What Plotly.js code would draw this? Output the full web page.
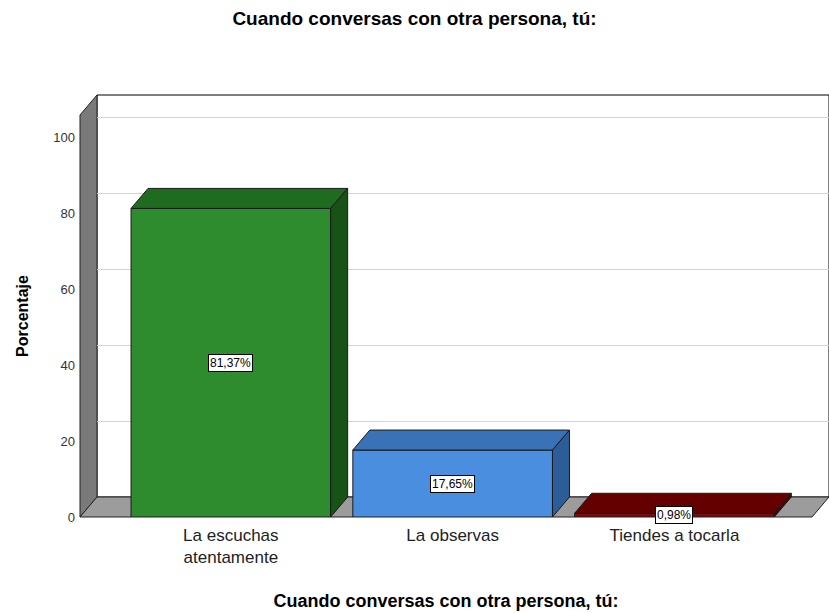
<!DOCTYPE html>
<html>
<head>
<meta charset="utf-8">
<script src="https://cdn.plot.ly/plotly-3.0.1.min.js"></script>
<style>body{margin:0;background:#fff}#chart{width:829px;height:613px}</style>
</head>
<body>
<div id="chart"></div>
<script>
const categories = ["La escuchas<br>atentamente", "La observas", "Tiendes a tocarla"];
const values = [81.37, 17.65, 0.98];
const valueLabels = ["81,37%", "17,65%", "0,98%"];
const yTicks = [0, 20, 40, 60, 80, 100];

const frontColors = ["#2e8b2e", "#4a8fdf", "#7d0a0a"];
const topColors = ["#1f6b1f", "#3a72b8", "#640000"];
const sideColors = ["#175317", "#2d5d99", "#4f0000"];

// geometry (pixels -> paper)
const W = 829, H = 613;
const L = 80, R = 829, T = 95, B = 517;
const pw = R - L, ph = B - T;
const dxPx = 17, dyPx = 20;
const xRange = [-0.68, 2.62], yRange = [0, 106];
const frontW = pw - dxPx, frontH = ph - dyPx;
const ddx = dxPx / (frontW / (xRange[1] - xRange[0]));
const ddy = dyPx / (frontH / (yRange[1] - yRange[0]));
const bw = 0.9;
const px = p => (p - L) / pw;
const py = p => (B - p) / ph;

const idx = categories.map((_, i) => i);
const traces = [];
traces.push({
  type: "bar", x: idx, y: values, xaxis: "x2", yaxis: "y2", width: bw,
  marker: {color: frontColors, line: {color: "#1a1a1a", width: 1}},
  hoverinfo: "skip", showlegend: false
});
values.forEach((v, i) => {
  const x0 = i - bw / 2, x1 = i + bw / 2;
  traces.push({
    type: "scatter", mode: "lines", xaxis: "x2", yaxis: "y2", fill: "toself",
    x: [x0, x1, x1 + ddx, x0 + ddx, x0], y: [v, v, v + ddy, v + ddy, v],
    fillcolor: topColors[i], line: {color: "#1a1a1a", width: 1},
    hoverinfo: "skip", showlegend: false
  });
  traces.push({
    type: "scatter", mode: "lines", xaxis: "x2", yaxis: "y2", fill: "toself",
    x: [x1, x1 + ddx, x1 + ddx, x1, x1], y: [0, ddy, v + ddy, v, 0],
    fillcolor: sideColors[i], line: {color: "#1a1a1a", width: 1},
    hoverinfo: "skip", showlegend: false
  });
});
// invisible trace for back axes
traces.push({type: "scatter", x: [0], y: [0], xaxis: "x", yaxis: "y", mode: "markers",
  marker: {opacity: 0}, hoverinfo: "skip", showlegend: false});

const font = "Liberation Sans, Arial, sans-serif";

const annotations = values.map((v, i) => ({
  x: i, y: v / 2, xref: "x2", yref: "y2", text: valueLabels[i], showarrow: false,
  bgcolor: "#ffffff", bordercolor: "#000000", borderwidth: 1, borderpad: 1,
  font: {family: font, size: 12, color: "#000"}
}));

const shapes = [
  // back wall
  {type: "rect", xref: "paper", yref: "paper", layer: "below",
   x0: px(L + dxPx), x1: 1, y0: py(B - dyPx), y1: 1,
   fillcolor: "#ffffff", line: {color: "#000", width: 1}},
  // left wall
  {type: "path", xref: "paper", yref: "paper", layer: "below",
   path: `M ${px(L)},${py(B)} L ${px(L)},${py(T + dyPx)} L ${px(L + dxPx)},${py(T)} L ${px(L + dxPx)},${py(B - dyPx)} Z`,
   fillcolor: "#7a7a7a", line: {color: "#222", width: 1}},
  // floor
  {type: "path", xref: "paper", yref: "paper", layer: "below",
   path: `M ${px(L)},${py(B)} L ${px(R - dxPx)},${py(B)} L ${px(R)},${py(B - dyPx)} L ${px(L + dxPx)},${py(B - dyPx)} Z`,
   fillcolor: "#9c9c9c", line: {color: "#222", width: 1}}
];

const layout = {
  width: W, height: H,
  margin: {l: L, r: W - R, t: T, b: H - B},
  paper_bgcolor: "#ffffff", plot_bgcolor: "rgba(0,0,0,0)",
  showlegend: false,
  title: {text: "<b>Cuando conversas con otra persona, tú:</b>", x: 0.5, xanchor: "center", y: 0.97, yanchor: "middle",
          font: {family: font, size: 19, color: "#000"}},
  xaxis: {domain: [px(L + dxPx), 1], range: xRange, showgrid: false, zeroline: false,
          showticklabels: false, ticks: "", anchor: "y", fixedrange: true},
  yaxis: {domain: [py(B - dyPx), 1], range: yRange, tickvals: yTicks, showgrid: true,
          gridcolor: "#d4d4d4", gridwidth: 1, zeroline: false, showticklabels: false,
          ticks: "", anchor: "x", fixedrange: true},
  xaxis2: {domain: [0, px(R - dxPx)], range: xRange, anchor: "y2", tickvals: idx, ticktext: categories,
           showgrid: false, zeroline: false, showline: false, ticks: "", ticklabelstandoff: 6,
           tickfont: {family: font, size: 17, color: "#222"},
           automargin: true,
           title: {text: "<b>Cuando conversas con otra persona, tú:</b>", font: {family: font, size: 18, color: "#000"}, standoff: 28},
           fixedrange: true},
  yaxis2: {domain: [0, py(T + dyPx)], range: yRange, anchor: "x2", tickvals: yTicks,
           showgrid: false, zeroline: false, showline: false, ticks: "", ticklabelstandoff: 4,
           tickfont: {family: font, size: 13, color: "#333"},
           automargin: true,
           title: {text: "<b>Porcentaje</b>", font: {family: font, size: 16, color: "#000"}, standoff: 20},
           fixedrange: true},
  shapes: shapes,
  annotations: annotations
};

Plotly.newPlot("chart", traces, layout, {displayModeBar: false, staticPlot: true});
</script>
</body>
</html>
